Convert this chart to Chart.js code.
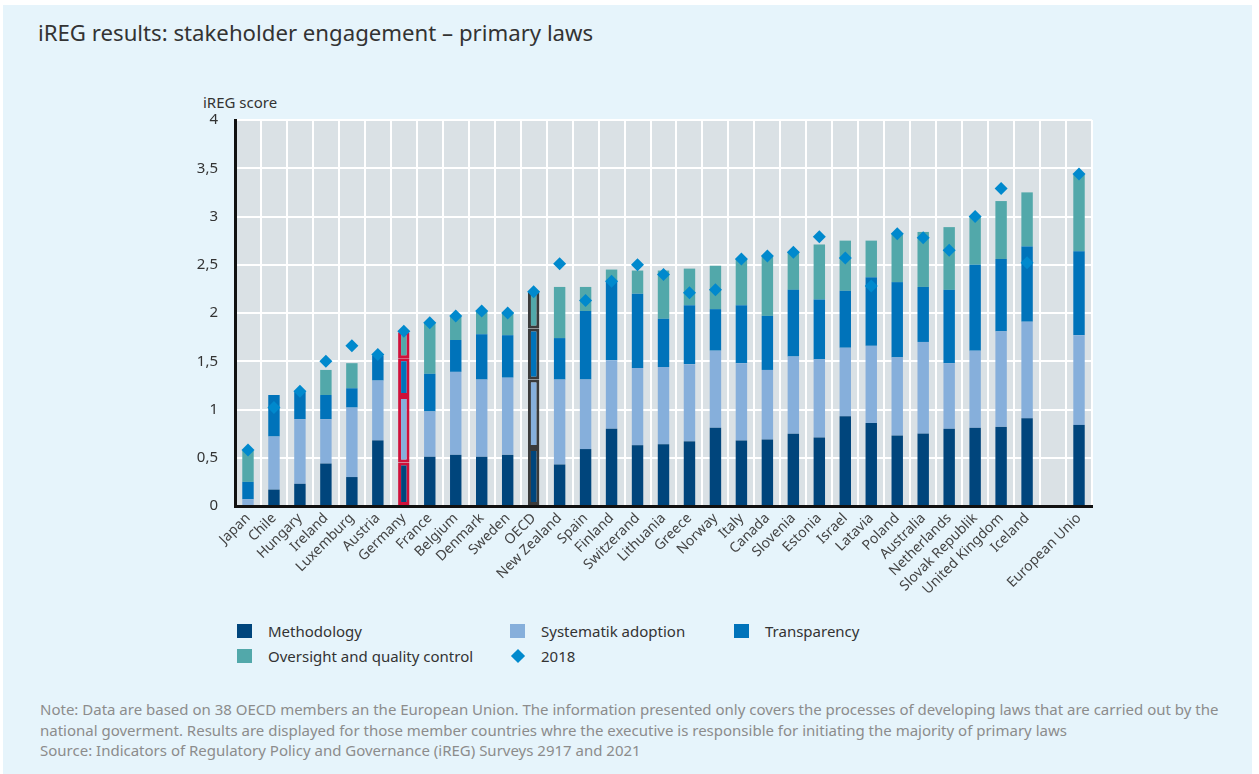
<!DOCTYPE html>
<html>
<head>
<meta charset="utf-8">
<script src="https://cdn.jsdelivr.net/npm/chart.js@4.4.1/dist/chart.umd.min.js"></script>
<style>
  body { margin: 0; width: 1259px; height: 774px; overflow: hidden; background: #fff; font-family: "Noto Sans", sans-serif; }
  #panel { position: absolute; left: 3px; top: 5px; width: 1249px; height: 769px; background: #e6f4fb; }
  #title { position: absolute; left: 38px; top: 17px; font-size: 22.2px; color: #333; white-space: nowrap; }
  #ylabel { position: absolute; left: 203px; top: 92px; font-size: 15px; color: #333; }
  #wrap { position: absolute; left: 0; top: 0; width: 1259px; height: 620px; }
  .lg { position: absolute; font-size: 15px; color: #333; white-space: nowrap; line-height: 20px; }
  .sw { position: absolute; width: 15px; height: 14px; }
  #note { position: absolute; left: 40px; top: 699px; font-size: 15px; line-height: 20.5px; color: #8c8c8c; white-space: nowrap; }
</style>
</head>
<body>
<div id="panel"></div>
<div id="title">iREG results: stakeholder engagement – primary laws</div>
<div id="ylabel">iREG score</div>
<div id="wrap"><canvas id="myChart"></canvas></div>

<div class="sw" style="left:237px;top:624px;background:#00457c"></div>
<div class="lg" style="left:268px;top:621px">Methodology</div>
<div class="sw" style="left:510px;top:624px;background:#86afdb"></div>
<div class="lg" style="left:541px;top:621px">Systematik adoption</div>
<div class="sw" style="left:734px;top:624px;background:#0073ba"></div>
<div class="lg" style="left:765px;top:621px">Transparency</div>
<div class="sw" style="left:237px;top:649px;background:#52a8aa"></div>
<div class="lg" style="left:268px;top:646px">Oversight and quality control</div>
<div class="sw" style="left:513px;top:651px;width:10px;height:10px;background:#0089cd;transform:rotate(45deg)"></div>
<div class="lg" style="left:541px;top:646px">2018</div>

<div id="note">Note: Data are based on 38 OECD members an the European Union. The information presented only covers the processes of developing laws that are carried out by the<br>national goverment. Results are displayed for those member countries whre the executive is responsible for initiating the majority of primary laws<br>Source: Indicators of Regulatory Policy and Governance (iREG) Surveys 2917 and 2021</div>

<script>
const countries = [
  "Japan", "Chile", "Hungary", "Ireland", "Luxemburg", "Austria", "Germany", "France",
  "Belgium", "Denmark", "Sweden", "OECD", "New Zealand", "Spain", "Finland", "Switzerand",
  "Lithuania", "Greece", "Norway", "Italy", "Canada", "Slovenia", "Estonia", "Israel",
  "Latavia", "Poland", "Australia", "Netherlands", "Slovak Republik", "United Kingdom",
  "Iceland", "", "European Unio",
];

const methodology = [0, 0.17, 0.23, 0.44, 0.30, 0.68, 0.45, 0.51, 0.53, 0.51, 0.53, 0.60, 0.43, 0.59, 0.80, 0.63, 0.64, 0.67, 0.81, 0.68, 0.69, 0.75, 0.71, 0.93, 0.86, 0.73, 0.75, 0.80, 0.81, 0.82, 0.91, null, 0.84];
const systematik = [0.07, 0.55, 0.67, 0.46, 0.72, 0.62, 0.69, 0.47, 0.86, 0.80, 0.80, 0.71, 0.88, 0.72, 0.71, 0.80, 0.80, 0.80, 0.80, 0.80, 0.72, 0.80, 0.81, 0.71, 0.80, 0.81, 0.95, 0.68, 0.80, 0.99, 1.00, null, 0.93];
const transparency = [0.18, 0.43, 0.28, 0.25, 0.20, 0.26, 0.39, 0.39, 0.33, 0.47, 0.44, 0.53, 0.43, 0.71, 0.82, 0.77, 0.50, 0.61, 0.43, 0.60, 0.56, 0.69, 0.62, 0.59, 0.71, 0.78, 0.57, 0.76, 0.89, 0.75, 0.78, null, 0.87];
const oversight = [0.32, 0, 0, 0.26, 0.26, 0, 0.27, 0.53, 0.24, 0.24, 0.24, 0.38, 0.53, 0.25, 0.12, 0.24, 0.50, 0.38, 0.45, 0.48, 0.61, 0.39, 0.57, 0.52, 0.38, 0.50, 0.57, 0.65, 0.50, 0.60, 0.56, null, 0.79];
const score2018 = [0.58, 1.02, 1.19, 1.50, 1.66, 1.57, 1.81, 1.90, 1.97, 2.02, 2.00, 2.22, 2.51, 2.13, 2.33, 2.50, 2.40, 2.21, 2.24, 2.56, 2.59, 2.63, 2.79, 2.57, 2.28, 2.82, 2.78, 2.65, 3.00, 3.29, 2.52, null, 3.44];

const yTicks = [0, 0.5, 1, 1.5, 2, 2.5, 3, 3.5, 4];

// grey plot background
const plotBg = {
  id: "plotBg",
  beforeDraw(chart) {
    const a = chart.chartArea;
    chart.ctx.save();
    chart.ctx.fillStyle = "#dae1e5";
    chart.ctx.fillRect(a.left, a.top, a.right - a.left, a.bottom - a.top);
    chart.ctx.restore();
  },
};

function outline(ctx) {
  const name = countries[ctx.dataIndex];
  if (name === "Germany") return "#d0103a";
  if (name === "OECD") return "#3a3a3a";
  return "rgba(0,0,0,0)";
}
function outlineWidth(ctx) {
  const name = countries[ctx.dataIndex];
  return name === "Germany" || name === "OECD" ? 3 : 0;
}

function barSet(label, data, color) {
  return {
    type: "bar",
    label: label,
    data: data,
    backgroundColor: color,
    borderColor: outline,
    borderWidth: outlineWidth,
    borderSkipped: false,
    stack: "bars",
    order: 1,
    barPercentage: 0.44,
    categoryPercentage: 1,
  };
}

const ctx = document.getElementById("myChart").getContext("2d");
const myChart = new Chart(ctx, {
  data: {
    labels: countries,
    datasets: [
      barSet("Methodology", methodology, "#00457c"),
      barSet("Systematik adoption", systematik, "#86afdb"),
      barSet("Transparency", transparency, "#0073ba"),
      barSet("Oversight and quality control", oversight, "#52a8aa"),
      {
        type: "line",
        label: "2018",
        data: score2018,
        showLine: false,
        pointStyle: "rectRot",
        pointRadius: 6.5,
        pointBackgroundColor: "#0089cd",
        pointBorderColor: "#0089cd",
        pointBorderWidth: 0,
        stack: "y2018",
        order: 0,
      },
    ],
  },
  options: {
    responsive: true,
    maintainAspectRatio: false,
    animation: false,
    layout: { padding: { left: 195, right: 167, top: 120, bottom: 14 } },
    plugins: { legend: { display: false }, tooltip: { enabled: false } },
    scales: {
      x: {
        stacked: true,
        afterFit(scale) { scale.height = 100; },
        grid: { color: "#ffffff", lineWidth: 2, drawTicks: false },
        border: { display: true, color: "#111", width: 3 },
        ticks: {
          autoSkip: false,
          minRotation: 45,
          maxRotation: 45,
          padding: 4,
          color: "#444",
          font: { family: "Noto Sans", size: 14 },
        },
      },
      y: {
        stacked: true,
        min: 0,
        max: 4,
        afterFit(scale) { scale.width = 40; },
        afterBuildTicks(scale) { scale.ticks = yTicks.map((v) => ({ value: v })); },
        grid: { color: "#ffffff", lineWidth: 2, drawTicks: false },
        border: { display: true, color: "#111", width: 3 },
        ticks: {
          padding: 17,
          color: "#333",
          font: { family: "Noto Sans", size: 15 },
          callback: (v) => String(v).replace(".", ","),
        },
      },
    },
  },
  plugins: [plotBg],
});
</script>
</body>
</html>
